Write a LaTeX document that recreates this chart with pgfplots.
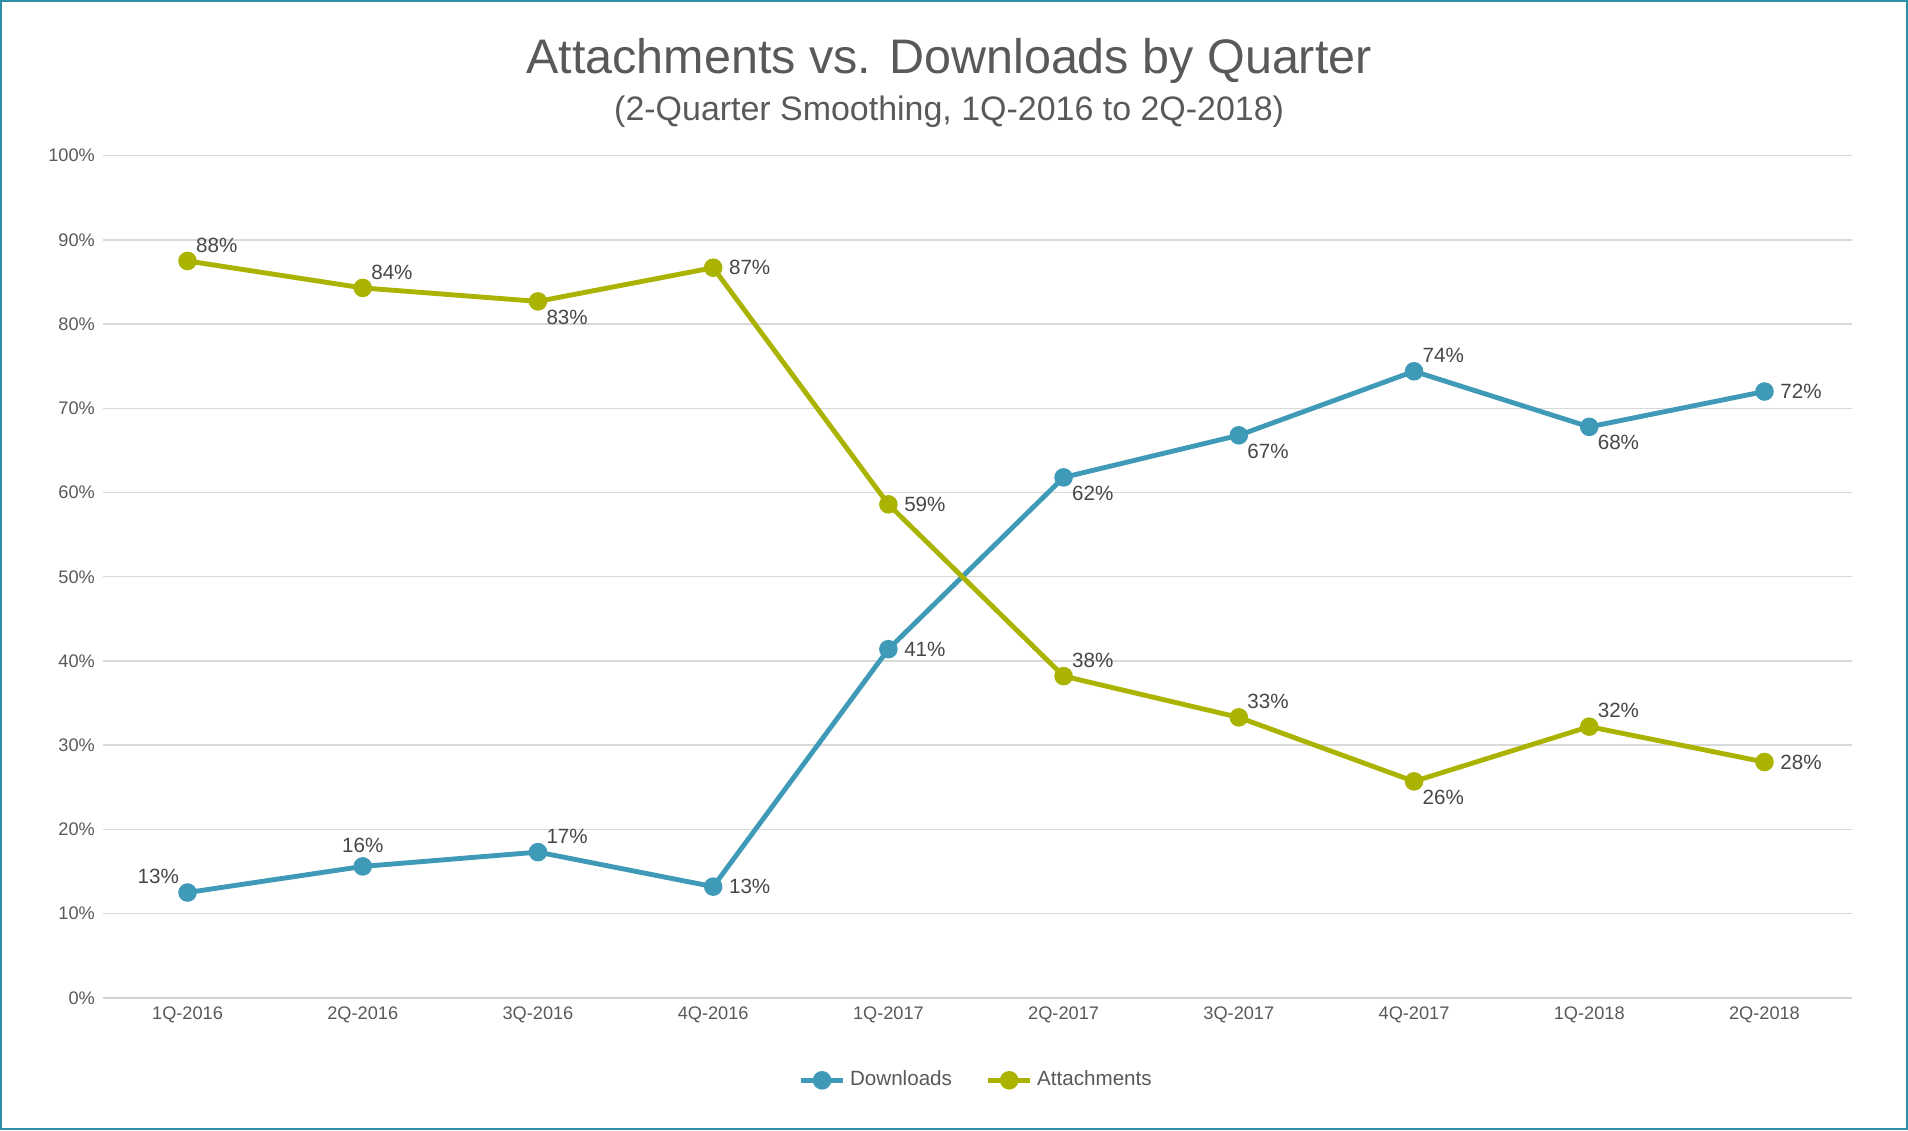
\documentclass[border=0pt]{standalone}
\usepackage{pgfplots}
\pgfplotsset{compat=1.18}
\usepackage{fontspec}
\setmainfont{Liberation Sans}
\definecolor{dlc}{HTML}{3E9AB7}
\definecolor{atc}{HTML}{A9B300}
\definecolor{tx}{HTML}{595959}
\definecolor{fr}{HTML}{2E8FA8}
\begin{document}
\begin{tikzpicture}[x=1bp,y=1bp]
\draw[fr,line width=1bp] (0.5,0.5) rectangle (783.5,464);
\node[tx,font=\fontsize{20}{24}\selectfont] at (390,439.5) {Attachments vs. Downloads by Quarter};
\node[tx,font=\fontsize{14}{17}\selectfont] at (390,418.5) {(2-Quarter Smoothing, 1Q-2016 to 2Q-2018)};
\begin{axis}[at={(42.5bp,54.5bp)},anchor=south west,scale only axis,
 width=718.5bp,height=346bp,xmin=-0.48,xmax=9.5,ymin=0,ymax=100,
 xtick={0,...,9},xticklabels={1Q-2016,2Q-2016,3Q-2016,4Q-2016,1Q-2017,2Q-2017,3Q-2017,4Q-2017,1Q-2018,2Q-2018},
 ytick={0,10,...,100},yticklabel={\pgfmathprintnumber{\tick}\%},
 /pgf/number format/assume math mode=true,
 ymajorgrids,grid style={color=black!15,line width=0.6bp},
 axis line style={draw=none},axis x line*=bottom,x axis line style={draw=black!20},
 major tick length=0,tick label style={tx,font=\fontsize{7.5}{9}\selectfont},
 legend style={at={(0.5,-0.098)},anchor=center,draw=none,legend columns=2,font=\fontsize{8.5}{10}\selectfont,text=tx,/tikz/every even column/.append style={column sep=12bp}},
 legend cell align=left,clip=false]
\addplot[dlc,line width=2bp,mark=*,mark size=2.8bp] coordinates {(0,12.5)(1,15.6)(2,17.3)(3,13.2)(4,41.4)(5,61.8)(6,66.8)(7,74.4)(8,67.8)(9,72.0)};
\addlegendentry{Downloads}
\addplot[atc,line width=2bp,mark=*,mark size=2.8bp] coordinates {(0,87.5)(1,84.3)(2,82.7)(3,86.7)(4,58.6)(5,38.2)(6,33.3)(7,25.7)(8,32.2)(9,28.0)};
\addlegendentry{Attachments}
\begin{scope}[every node/.style={font=\fontsize{8.5}{10}\selectfont,text=tx!80!black}]
\node[above left] at (axis cs:0,12.5) {13\%};
\node[above=2bp] at (axis cs:1,15.6) {16\%};
\node[above right] at (axis cs:2,17.3) {17\%};
\node[right=3bp] at (axis cs:3,13.2) {13\%};
\node[right=3bp] at (axis cs:4,41.4) {41\%};
\node[below right] at (axis cs:5,61.8) {62\%};
\node[below right] at (axis cs:6,66.8) {67\%};
\node[above right] at (axis cs:7,74.4) {74\%};
\node[below right] at (axis cs:8,67.8) {68\%};
\node[right=3bp] at (axis cs:9,72.0) {72\%};
\node[above right] at (axis cs:0,87.5) {88\%};
\node[above right] at (axis cs:1,84.3) {84\%};
\node[below right] at (axis cs:2,82.7) {83\%};
\node[right=3bp] at (axis cs:3,86.7) {87\%};
\node[right=3bp] at (axis cs:4,58.6) {59\%};
\node[above right] at (axis cs:5,38.2) {38\%};
\node[above right] at (axis cs:6,33.3) {33\%};
\node[below right] at (axis cs:7,25.7) {26\%};
\node[above right] at (axis cs:8,32.2) {32\%};
\node[right=3bp] at (axis cs:9,28.0) {28\%};
\end{scope}
\end{axis}
\end{tikzpicture}
\end{document}
